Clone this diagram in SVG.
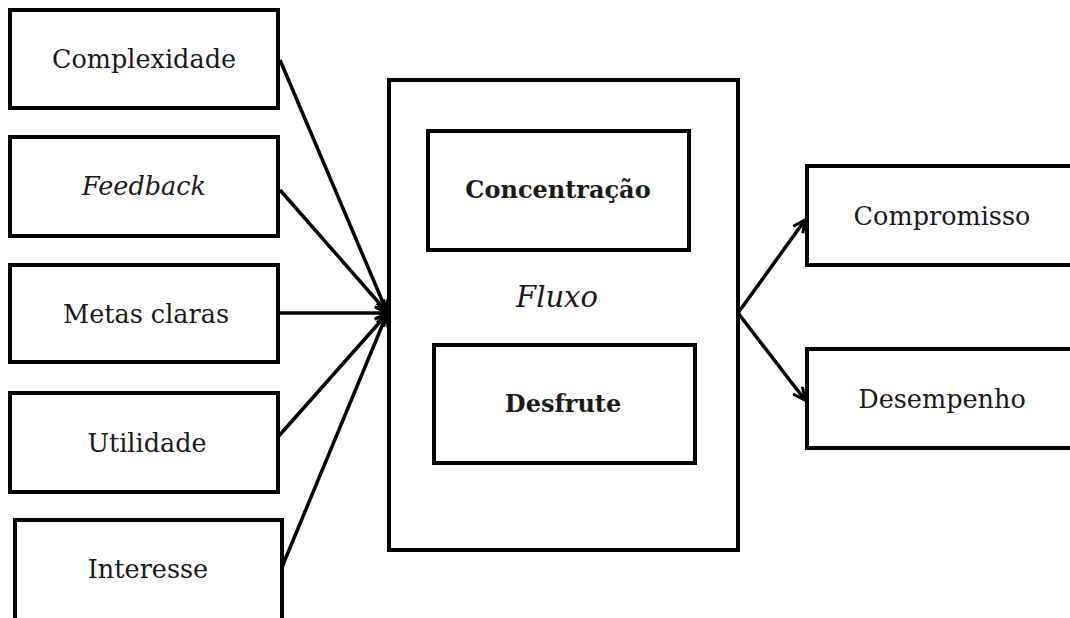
<svg xmlns="http://www.w3.org/2000/svg" width="1070" height="618" viewBox="0 0 1070 618">
<defs>
<style>
.box{fill:#fff;stroke:#000;stroke-width:4}
.t{font-family:"DejaVu Serif","Liberation Serif",serif;font-size:25.5px;fill:#1a1a1a;text-anchor:middle}
.b{font-weight:bold;font-size:24px}
.i{font-style:italic}
.f{font-style:italic;font-size:29px}
.c{stroke:#000;stroke-width:3.5;fill:none}
</style>
<marker id="ah" viewBox="0 0 14 14" refX="13" refY="7" markerWidth="14" markerHeight="14" markerUnits="userSpaceOnUse" orient="auto">
<path d="M1,1 L13,7 L1,13" fill="none" stroke="#000" stroke-width="3"/>
</marker>
</defs>
<rect width="1070" height="618" fill="#fff"/>
<g id="n-complexidade"><rect class="box" x="10" y="10" width="268" height="98"/><text class="t" x="144" y="68">Complexidade</text></g>
<g id="n-feedback"><rect class="box" x="10" y="137" width="268" height="99"/><text class="t i" x="144" y="195">Feedback</text></g>
<g id="n-metas"><rect class="box" x="10" y="265" width="268" height="97"/><text class="t" x="146" y="323">Metas claras</text></g>
<g id="n-utilidade"><rect class="box" x="10" y="393" width="268" height="99"/><text class="t" x="147" y="452">Utilidade</text></g>
<g id="n-interesse"><rect class="box" x="15" y="520" width="267" height="102"/><text class="t" x="148" y="578">Interesse</text></g>
<g id="n-fluxo"><rect class="box" x="389" y="80" width="349" height="470"/><text class="t f" x="557" y="307">Fluxo</text></g>
<g id="n-concentracao"><rect class="box" x="428" y="131" width="261" height="119"/><text class="t b" x="558" y="198">Concentração</text></g>
<g id="n-desfrute"><rect class="box" x="434" y="345" width="261" height="118"/><text class="t b" x="563" y="412">Desfrute</text></g>
<g id="n-compromisso"><rect class="box" x="807" y="166" width="270" height="99"/><text class="t" x="942" y="225">Compromisso</text></g>
<g id="n-desempenho"><rect class="box" x="807" y="349" width="270" height="99"/><text class="t" x="942" y="408">Desempenho</text></g>
<g id="connectors">
<line class="c" x1="280" y1="60" x2="387" y2="312" marker-end="url(#ah)"/>
<line class="c" x1="280" y1="190" x2="387" y2="312" marker-end="url(#ah)"/>
<line class="c" x1="280" y1="313" x2="387" y2="313" marker-end="url(#ah)"/>
<line class="c" x1="277" y1="438" x2="387" y2="314" marker-end="url(#ah)"/>
<line class="c" x1="282" y1="567" x2="387" y2="314" marker-end="url(#ah)"/>
<line class="c" x1="738" y1="313" x2="805" y2="220" marker-end="url(#ah)"/>
<line class="c" x1="738" y1="313" x2="805" y2="400" marker-end="url(#ah)"/>
</g>
</svg>
